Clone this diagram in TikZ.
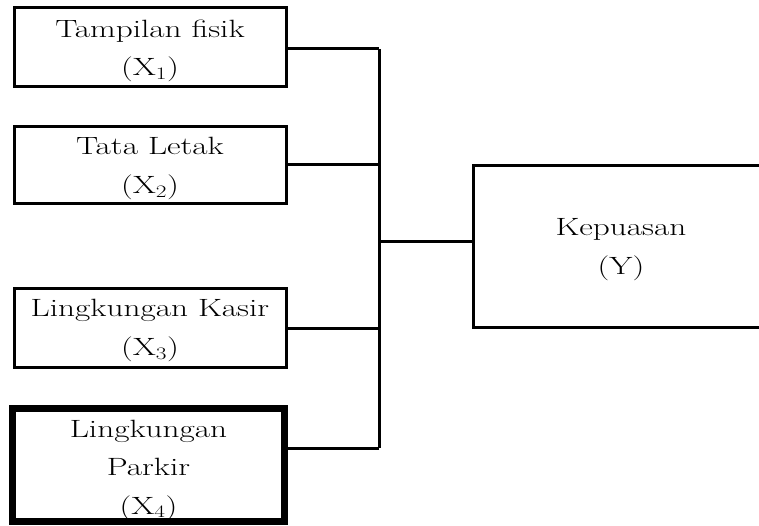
\documentclass[tikz,border=0pt]{standalone}
\usepackage{fontspec}
\setmainfont[FakeStretch=1.33]{Latin Modern Roman}
\usepackage{tikz}
\usetikzlibrary{positioning}
\newcommand{\varx}[1]{(X\textsubscript{#1})}

\begin{document}
\begin{tikzpicture}[x=1pt,y=-1pt,line width=3pt,
	txt/.style={align=center,inner sep=0pt,text depth=0pt,font=\fontsize{25}{38.5}\selectfont},
	box/.style={txt,draw=black,rectangle,minimum width=272pt},
	thickbox/.style={draw=black,line width=7pt,rectangle,minimum width=272pt,minimum height=113.5pt,inner sep=0pt}]
	\useasboundingbox (0,0) rectangle (759,526);
	\clip (0,0) rectangle (759,526);
	% variables
	\node [box,minimum height=79pt] (x1) at (150,47.5) {Tampilan fisik\\\varx{1}};
	\node [box,minimum height=77pt] (x2) at (150,165.5) {Tata Letak\\\varx{2}};
	\node [box,minimum height=79pt] (x3) at (150,327.5) {Lingkungan Kasir\\\varx{3}};
	\node [thickbox] (x4) at (148.5,465) {};
	\node [txt] (x4txt) at (148.5,467) {Lingkungan\\Parkir\\\varx{4}};
	\node [box,minimum width=296pt,minimum height=161pt] (y) at (621,246.5) {Kepuasan\\(Y)};
	% bus
	\coordinate (b1) at (379,49);
	\coordinate (b2) at (379,165);
	\coordinate (b3) at (379,328);
	\coordinate (b4) at (379,448);
	\coordinate (by) at (379,242);
	\draw [black] (x1.east |- b1) -- (b1);
	\draw [black] (x2.east |- b2) -- (b2);
	\draw [black] (x3.east |- b3) -- (b3);
	\draw [black] (x4.east |- b4) -- (b4);
	\draw [black] (b1) -- (b4);
	\draw [black] (by) -- (by -| y.west);
\end{tikzpicture}
\end{document}
